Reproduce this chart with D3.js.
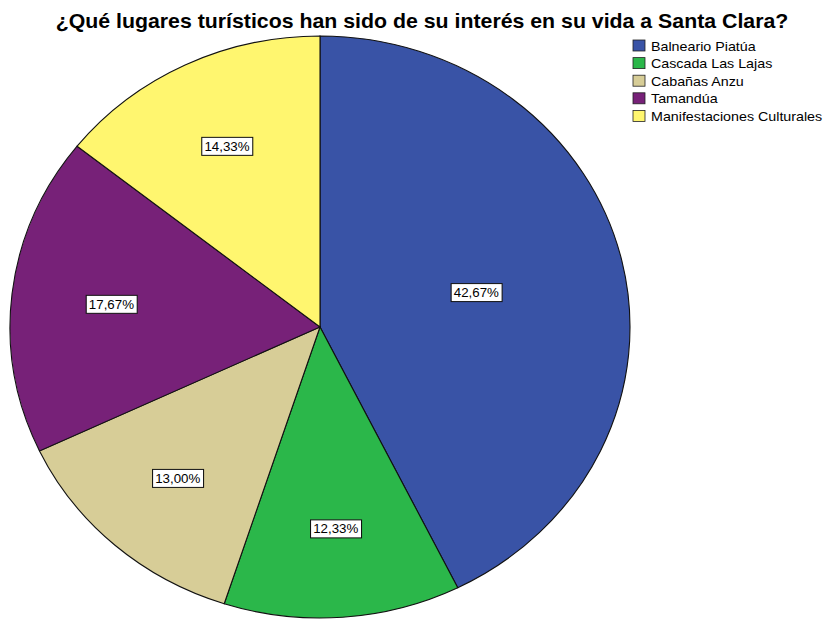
<!DOCTYPE html>
<html>
<head>
<meta charset="utf-8">
<script src="https://cdn.jsdelivr.net/npm/d3@7"></script>
<style>
  body { margin: 0; background: #fff; }
  text { font-family: "Liberation Sans", Arial, sans-serif; }
</style>
</head>
<body>
<script>
(function () {

var categories = ["Balneario Piatúa", "Cascada Las Lajas", "Cabañas Anzu", "Tamandúa", "Manifestaciones Culturales"];
var values = [42.67, 12.33, 13.00, 17.67, 14.33];
var colors = ["#3953a6", "#2bb74a", "#d7cd97", "#772178", "#fff66f"];
var title = "¿Qué lugares turísticos han sido de su interés en su vida a Santa Clara?";

var width = 825,
    height = 619,
    cx = 320,
    cy = 327,
    rx = 310,
    ry = 291,
    sx = rx / ry; // the whole picture is stretched horizontally

var data = categories.map(function (c, i) { return {name: c, value: values[i], color: colors[i]}; });

var svg = d3.select("body").append("svg")
    .attr("width", width)
    .attr("height", height);

svg.append("g")
    .attr("transform", "translate(422,28) scale(" + sx + ",1)")
  .append("text")
    .attr("text-anchor", "middle")
    .style("font-size", "20px")
    .style("font-weight", "bold")
    .text(title);

var pie = d3.pie().sort(null).value(function (d) { return d.value; });
var arc = d3.arc().innerRadius(0).outerRadius(ry);
var arcs = pie(data);

var g = svg.append("g")
    .attr("transform", "translate(" + cx + "," + cy + ") scale(" + sx + ",1)");

g.selectAll("path")
    .data(arcs)
  .enter().append("path")
    .attr("d", arc)
    .attr("fill", function (d) { return d.data.color; })
    .attr("stroke", "#111")
    .attr("stroke-width", 1.1)
    .attr("vector-effect", "non-scaling-stroke");

// labels near the area centroid of each sector
var labels = svg.append("g").attr("transform", "translate(" + cx + "," + cy + ")");
arcs.forEach(function (d) {
    var th = d.endAngle - d.startAngle,
        mid = (d.startAngle + d.endAngle) / 2,
        r = 1.07 * 4 * ry * Math.sin(th / 2) / (3 * th),
        x = Math.sin(mid) * r * sx,
        y = -Math.cos(mid) * r;
    var lg = labels.append("g").attr("transform", "translate(" + x + "," + y + ") scale(" + sx + ",1)");
    var t = lg.append("text")
        .attr("text-anchor", "middle")
        .attr("dy", "0.36em")
        .style("font-size", "12.5px")
        .text(d3.format(".2f")(d.data.value).replace(".", ",") + "%");
    var bb = t.node().getBBox();
    lg.insert("rect", "text")
        .attr("x", bb.x - 2.5)
        .attr("y", -9)
        .attr("width", bb.width + 5)
        .attr("height", 18)
        .attr("fill", "#fff")
        .attr("stroke", "#111")
        .attr("stroke-width", 1);
});

var legend = svg.append("g").attr("transform", "translate(633,40)");
var rows = legend.selectAll("g")
    .data(data)
  .enter().append("g")
    .attr("transform", function (d, i) { return "translate(0," + (i * 17.6) + ")"; });
rows.append("rect")
    .attr("width", 12)
    .attr("height", 11)
    .attr("fill", function (d) { return d.color; })
    .attr("stroke", "#222")
    .attr("stroke-width", 0.8);
rows.append("text")
    .attr("transform", "translate(18,10.5) scale(" + sx + ",1)")
    .style("font-size", "13.4px")
    .text(function (d) { return d.name; });

})();
</script>
</body>
</html>
